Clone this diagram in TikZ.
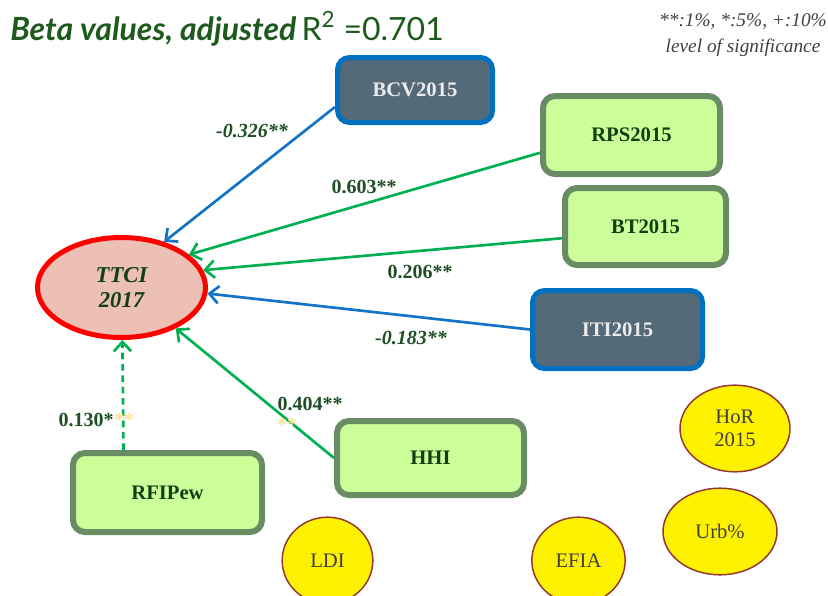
\documentclass[tikz,border=0pt]{standalone}
\usepackage{fontspec}
\setmainfont{Liberation Serif}
\newfontfamily\titlefont{Lato}
\usetikzlibrary{arrows.meta,shapes.geometric}
\definecolor{titlegreen}{HTML}{1E5A1E}
\definecolor{labgreen}{HTML}{1F4F26}
\definecolor{boxtext}{HTML}{123F12}
\definecolor{gfill}{HTML}{CCFF99}
\definecolor{gborder}{HTML}{6A8C64}
\definecolor{bborder}{HTML}{0070C0}
\definecolor{bfill}{HTML}{546A79}
\definecolor{arrgreen}{HTML}{00B050}
\definecolor{arrblue}{HTML}{1273C7}
\definecolor{pinkfill}{HTML}{ECC0B4}
\definecolor{yborder}{HTML}{943634}
\definecolor{ytext}{HTML}{404040}
\definecolor{faint}{HTML}{FFE699}
\tikzset{
  gbox/.style={draw=gborder, line width=4.5pt, fill=gfill, rounded corners=9pt, inner sep=0pt,
    font=\fontsize{15.5}{18}\selectfont\bfseries, text=boxtext},
  bbox/.style={draw=bborder, line width=3.75pt, fill=bfill, rounded corners=9pt, inner sep=0pt,
    font=\fontsize{15.5}{18}\selectfont\bfseries, text=white!92!black},
  yell/.style={ellipse, draw=yborder, line width=1.1pt, fill=yellow, inner sep=0pt,
    minimum height=65pt, font=\fontsize{15.5}{17.5}\selectfont, text=ytext, align=center},
  conn/.style={line width=2pt, -{Straight Barb[length=7pt,width=13pt,line width=2pt]}},
  lab/.style={font=\fontsize{15}{17}\selectfont\bfseries, text=labgreen, inner sep=0pt},
  ilab/.style={lab, font=\fontsize{15}{17}\selectfont\bfseries\itshape},
}
\begin{document}
\begin{tikzpicture}[x=0.75pt, y=-0.75pt]
\useasboundingbox (0,0) rectangle (828,596);

% title and note
\node[anchor=base west, inner sep=0pt, text=titlegreen] (title) at (10,40)
  {\titlefont\fontsize{24}{27}\selectfont\bfseries\itshape Beta values, adjusted\,\mdseries\upshape R\textsuperscript{2} =0.701};
\node[align=center, inner sep=0pt, font=\fontsize{14.5}{19}\selectfont\itshape, text=black!75] (note) at (743,35)
  {**:1\%, *:5\%, +:10\%\\level of significance};

% central ellipse
\node[ellipse, draw=red, line width=3.75pt, fill=pinkfill, minimum width=126pt, minimum height=75pt,
  inner sep=0pt, align=center, font=\fontsize{17}{20}\selectfont\bfseries\itshape, text=boxtext] (ttci) at (121.5,287.5)
  {TTCI\\[-1pt]2017};

% boxes
\node[bbox, minimum width=116.25pt, minimum height=48.75pt] (bcv) at (415,90) {BCV2015};
\node[gbox, minimum width=132.75pt, minimum height=58.5pt] (rps) at (631.5,135) {RPS2015};
\node[gbox, minimum width=120.75pt, minimum height=57.75pt] (bt) at (645.5,226.5) {BT2015};
\node[bbox, minimum width=127.5pt, minimum height=58.5pt] (iti) at (617.5,329.5) {ITI2015};
\node[gbox, minimum width=140.25pt, minimum height=55.5pt] (hhi) at (430.5,458) {HHI};
\node[gbox, minimum width=141.75pt, minimum height=59.25pt] (rfi) at (167.5,492.5) {RFIPew};

% yellow ellipses
\node[yell, minimum width=82.5pt] (hor) at (735,428.5) {HoR\\2015};
\node[yell, minimum width=85.5pt] (urb) at (720,531.5) {Urb\%};
\node[yell, minimum width=68pt] (ldi) at (327.5,560.5) {LDI};
\node[yell, minimum width=70pt] (efia) at (578.5,560.5) {EFIA};

% connectors
\draw[conn, arrblue] (bcv.192) -- (ttci.47);
\draw[conn, arrgreen] (rps.191) -- (ttci.26);
\draw[conn, arrgreen] (bt.188) -- (ttci.12);
\draw[conn, arrblue] (iti.west) -- (ttci.-4);
\draw[conn, arrgreen] (hhi.west) -- (ttci.-37);
\draw[conn, arrgreen, dash pattern=on 5pt off 3.5pt] (rfi.136) -- (ttci.-89);

% labels
\node[ilab] (l1) at (252,131) {-0.326**};
\node[lab] (l2) at (364,187) {0.603**};
\node[lab] (l3) at (420,272) {0.206**};
\node[ilab] (l4) at (411,338) {-0.183**};
\node[lab] (l5) at (310,404) {0.404**};
\node[lab, text=faint] (l5b) at (287,425) {**};
\node[lab] (l6) at (86,420) {0.130*};
\node[lab, text=faint] (l6b) at (124,420) {**};
\end{tikzpicture}
\end{document}
